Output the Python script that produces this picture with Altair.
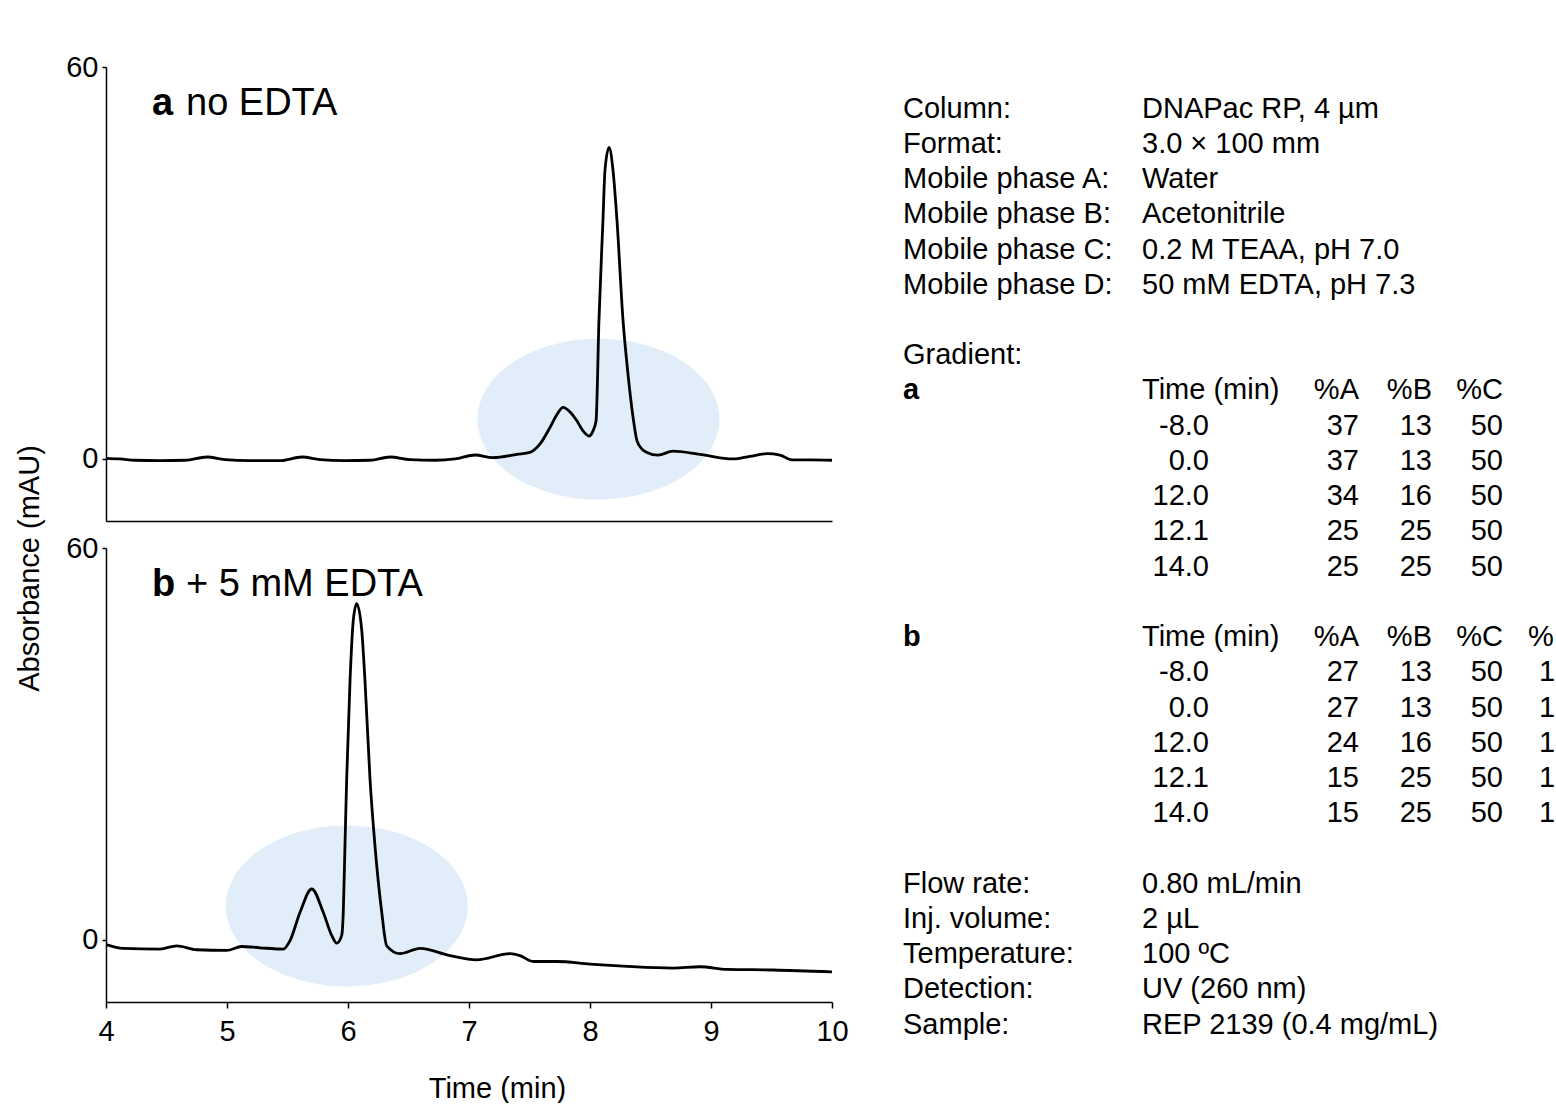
import altair as alt
import pandas as pd

# ---------------- chromatogram data (time in min, absorbance in mAU) ----------------
time_a = [4.000, 4.116, 4.240, 4.446, 4.653, 4.835, 4.983, 5.190, 5.438, 5.620, 5.769, 5.975,
          6.182, 6.347, 6.512, 6.719, 6.884, 7.050, 7.198, 7.397, 7.504, 7.587, 7.669, 7.727,
          7.777, 7.835, 7.893, 7.942, 7.992, 8.025, 8.050, 8.074, 8.107, 8.124, 8.157, 8.190,
          8.223, 8.273, 8.314, 8.355, 8.388, 8.430, 8.471, 8.562, 8.686, 8.909, 9.182, 9.322,
          9.463, 9.570, 9.669, 9.818, 10.0]
abs_a = [0.1, 0.0, -0.2, -0.25, -0.2, 0.3, -0.1, -0.25, -0.25, 0.3, -0.1, -0.25,
         -0.2, 0.3, -0.1, -0.2, 0.0, 0.6, 0.2, 0.7, 1.0, 2.3, 4.8, 6.8,
         7.9, 7.2, 5.8, 4.3, 3.5, 4.3, 5.8, 21.2, 36.5, 44.2, 47.7, 44.2,
         36.5, 21.2, 13.0, 6.5, 2.8, 1.5, 1.0, 0.57, 1.2, 0.7, 0.0, 0.4,
         0.8, 0.6, -0.15, -0.15, -0.2]

time_b = [4.0, 4.143, 4.446, 4.584, 4.750, 4.998, 5.121, 5.273, 5.465, 5.521, 5.603, 5.700,
          5.796, 5.865, 5.907, 5.948, 5.961, 5.975, 5.989, 6.017, 6.044, 6.072, 6.113, 6.140,
          6.182, 6.223, 6.279, 6.320, 6.430, 6.595, 6.843, 7.064, 7.339, 7.421, 7.531, 7.725,
          8.000, 8.275, 8.688, 8.909, 9.130, 9.515, 10.0]
abs_b = [-0.7, -1.3, -1.4, -0.9, -1.5, -1.6, -1.0, -1.2, -1.4, -0.1, 4.2, 7.8,
         4.2, 0.7, -0.5, 0.7, 4.3, 14.4, 24.6, 39.8, 49.0, 51.5, 47.5, 39.8,
         24.6, 14.4, 4.2, -0.9, -2.1, -1.3, -2.4, -3.05, -2.1, -2.4, -3.3, -3.3,
         -3.7, -4.0, -4.3, -4.1, -4.5, -4.6, -4.9]

# highlighted regions (centre in data units)
highlight_a = {"t": [8.07], "v": [6.1]}
highlight_b = {"t": [5.99], "v": [5.2]}

panel_a_tag, panel_a_title = "a", "no EDTA"
panel_b_tag, panel_b_title = "b", "+ 5 mM EDTA"
y_title = "Absorbance (mAU)"
x_title = "Time (min)"
x_ticks = [4, 5, 6, 7, 8, 9, 10]
y_ticks = [0, 60]

# ---------------- method text ----------------
info_labels = ["Column:", "Format:", "Mobile phase A:", "Mobile phase B:", "Mobile phase C:", "Mobile phase D:"]
info_values = ["DNAPac RP, 4 µm", "3.0 × 100 mm", "Water", "Acetonitrile", "0.2 M TEAA, pH 7.0", "50 mM EDTA, pH 7.3"]
gradient_title = "Gradient:"
grad_time_header = "Time (min)"
grad_time = ["-8.0", "0.0", "12.0", "12.1", "14.0"]
grad_a_A = [37, 37, 34, 25, 25]
grad_a_B = [13, 13, 16, 25, 25]
grad_a_C = [50, 50, 50, 50, 50]
grad_b_A = [27, 27, 24, 15, 15]
grad_b_B = [13, 13, 16, 25, 25]
grad_b_C = [50, 50, 50, 50, 50]
grad_b_D = [10, 10, 10, 10, 10]
cond_labels = ["Flow rate:", "Inj. volume:", "Temperature:", "Detection:", "Sample:"]
cond_values = ["0.80 mL/min", "2 µL", "100 ºC", "UV (260 nm)", "REP 2139 (0.4 mg/mL)"]

# line numbers of the text block (row order)
info_lines = list(range(len(info_labels)))
grad_line = info_lines[-1] + 2
a_head = grad_line + 1
a_rows = [a_head + 1 + i for i in range(len(grad_time))]
b_head = a_rows[-1] + 2
b_rows = [b_head + 1 + i for i in range(len(grad_time))]
cond_lines = [b_rows[-1] + 2 + i for i in range(len(cond_labels))]

W, H = 726, 454
BLACK = "#000000"
FILL = "#E1EDF9"
FS = 29
FS_PANEL = 38

x_scale = alt.Scale(domain=[4, 10], nice=False, zero=False)
y_scale = alt.Scale(domain=[-9.5, 60], nice=False, zero=False)
y_axis = alt.Axis(values=y_ticks, title=None, grid=False, tickSize=4, labelPadding=4)

ellipse_path = ("M-1,0C-1,-0.3673,-0.5523,-0.665,0,-0.665C0.5523,-0.665,1,-0.3673,1,0"
                "C1,0.3673,0.5523,0.665,0,0.665C-0.5523,0.665,-1,0.3673,-1,0Z")


def panel(t, v, hl, x_axis, tag, title):
    x_enc = alt.X("t:Q", scale=x_scale, axis=x_axis)
    y_enc = alt.Y("v:Q", scale=y_scale, axis=y_axis)
    ell = alt.Chart(pd.DataFrame(hl)).mark_point(
        shape=ellipse_path, filled=True, size=242 * 242, color=FILL, opacity=1, strokeWidth=0
    ).encode(x=x_enc, y=y_enc)
    line = alt.Chart(pd.DataFrame({"t": t, "v": v})).mark_line(
        interpolate="monotone", color=BLACK, strokeWidth=2.8
    ).encode(x=x_enc, y=y_enc)
    tag_t = alt.Chart(pd.DataFrame({"s": [tag]})).mark_text(
        fontSize=FS_PANEL, fontWeight="bold", align="left", baseline="middle", color=BLACK
    ).encode(x=alt.value(46), y=alt.value(37), text="s:N")
    title_t = alt.Chart(pd.DataFrame({"s": [title]})).mark_text(
        fontSize=FS_PANEL, align="left", baseline="middle", color=BLACK
    ).encode(x=alt.value(80), y=alt.value(37), text="s:N")
    return alt.layer(ell, line), tag_t, title_t


top_x_axis = alt.Axis(labels=False, ticks=False, title=None, grid=False, domain=True)
bot_x_axis = alt.Axis(values=x_ticks, format="d", title=x_title, grid=False, tickSize=6,
                      labelPadding=9, labelFlush=False, titlePadding=28, titleX=391,
                      titleAlign="center")

top_main, top_tag, top_title = panel(time_a, abs_a, highlight_a, top_x_axis, panel_a_tag, panel_a_title)
bot_main, bot_tag, bot_title = panel(time_b, abs_b, highlight_b, bot_x_axis, panel_b_tag, panel_b_title)

# ---------------- text block (layered into top panel, own line scale) ----------------
text_y = alt.Y("line:Q", scale=alt.Scale(domain=[-1.1808, 11.7059], reverse=True, nice=False, zero=False),
               axis=None)


def tlayer(lines, texts, x, align, weight="normal", limit=None):
    kw = dict(fontSize=FS, baseline="middle", align=align, fontWeight=weight, color=BLACK)
    if limit is not None:
        kw.update(limit=limit, ellipsis="\u200b")
    df = pd.DataFrame({"line": lines, "text": [str(s) for s in texts]})
    return alt.Chart(df).mark_text(**kw).encode(x=alt.value(x), y=text_y, text="text:N")


left_lines = info_lines + [grad_line] + cond_lines
left_texts = info_labels + [gradient_title] + cond_labels
val_lines = info_lines + [a_head, b_head] + cond_lines
val_texts = info_values + [grad_time_header, grad_time_header] + cond_values

text_layers = [
    tlayer(left_lines, left_texts, 797, "left"),
    tlayer([a_head, b_head], [panel_a_tag, panel_b_tag], 797, "left", weight="bold"),
    tlayer(val_lines, val_texts, 1036, "left"),
    tlayer(a_rows + b_rows, grad_time + grad_time, 1103, "right"),
    tlayer([a_head, b_head] + a_rows + b_rows, ["%A", "%A"] + grad_a_A + grad_b_A, 1253, "right"),
    tlayer([a_head, b_head] + a_rows + b_rows, ["%B", "%B"] + grad_a_B + grad_b_B, 1326, "right"),
    tlayer([a_head, b_head] + a_rows + b_rows, ["%C", "%C"] + grad_a_C + grad_b_C, 1397, "right"),
    tlayer([b_head], ["%D"], 1422, "left", limit=27),
    tlayer(b_rows, grad_b_D, 1433, "left", limit=17),
]

ytitle = alt.Chart(pd.DataFrame({"s": [y_title]})).mark_text(
    fontSize=FS, angle=270, align="center", baseline="middle", color=BLACK
).encode(x=alt.value(-76), y=alt.value(501.5), text="s:N")

top = alt.layer(top_main, alt.layer(*text_layers), top_tag, top_title, ytitle).resolve_scale(
    y="independent").properties(width=W, height=H)
bottom = alt.layer(bot_main, bot_tag, bot_title).properties(width=W, height=H)

chart = alt.vconcat(top, bottom, spacing=27, bounds="flush").properties(
    padding={"left": 16, "top": 53, "right": 0, "bottom": 0}
).configure(font="Liberation Sans").configure_view(strokeWidth=0).configure_axis(
    labelFontSize=FS, titleFontSize=FS, titleFontWeight="normal", labelColor=BLACK, titleColor=BLACK,
    tickColor=BLACK, domainColor=BLACK, domainWidth=1.5, tickWidth=1.5, labelFont="Liberation Sans",
    titleFont="Liberation Sans"
)

chart.save("out.html", embed_options={"renderer": "svg", "actions": False})
